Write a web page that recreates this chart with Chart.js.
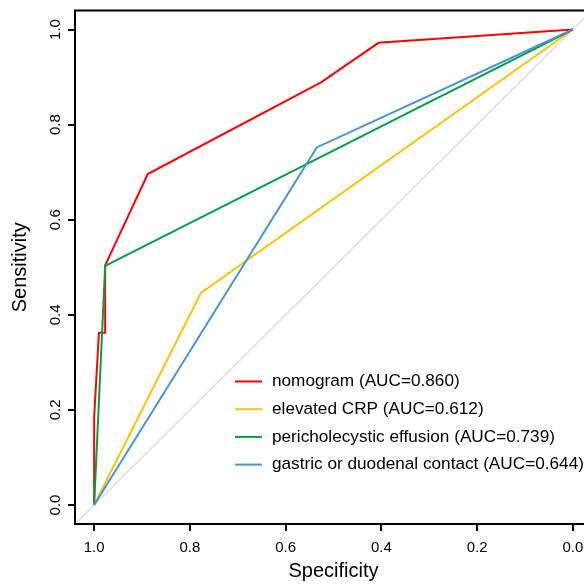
<!DOCTYPE html>
<html>
<head>
<meta charset="utf-8">
<script src="https://cdn.jsdelivr.net/npm/chart.js@4/dist/chart.umd.min.js"></script>
<style>
  html, body { margin: 0; padding: 0; background: #fff; overflow: hidden; width: 584px; height: 584px; }
  canvas { display: block; }
</style>
</head>
<body>
<canvas id="c" width="592" height="584"></canvas>
<script>
// ---- data ----
const tickValues = [0.0, 0.2, 0.4, 0.6, 0.8, 1.0];

const seriesLabels = [
  "nomogram (AUC=0.860)",
  "elevated CRP (AUC=0.612)",
  "pericholecystic effusion (AUC=0.739)",
  "gastric or duodenal contact (AUC=0.644)"
];
const seriesColors = ["#FF0000", "#FFC000", "#00A040", "#4295D8"];

const nomogramSpec = [1.0, 1.0, 0.990, 0.977, 0.977, 0.888, 0.526, 0.406, 0.0];
const nomogramSens = [0.0, 0.185, 0.362, 0.362, 0.504, 0.696, 0.889, 0.972, 1.0];

const crpSpec = [1.0, 0.777, 0.0];
const crpSens = [0.0, 0.446, 1.0];

const effusionSpec = [1.0, 0.977, 0.0];
const effusionSens = [0.0, 0.503, 1.0];

const contactSpec = [1.0, 0.535, 0.0];
const contactSens = [0.0, 0.752, 1.0];

const diagSpec = [1.1, -0.1];
const diagSens = [-0.1, 1.1];

// ---- build ----
const toPts = (xs, ys) => xs.map((x, i) => ({ x: x, y: ys[i] }));
const curves = [
  toPts(nomogramSpec, nomogramSens),
  toPts(crpSpec, crpSens),
  toPts(effusionSpec, effusionSens),
  toPts(contactSpec, contactSens)
];

const datasets = curves.map((pts, i) => ({
  label: seriesLabels[i],
  data: pts,
  borderColor: seriesColors[i],
  backgroundColor: seriesColors[i],
  borderWidth: 2,
  showLine: true,
  pointRadius: 0,
  tension: 0,
  fill: false,
  order: 4 - i
}));
datasets.push({
  label: "",
  data: toPts(diagSpec, diagSens),
  borderColor: "#DDDDDD",
  borderWidth: 1.5,
  showLine: true,
  pointRadius: 0,
  fill: false,
  order: 10
});

const boxPlugin = {
  id: "box",
  afterDraw(chart) {
    const ctx = chart.ctx, a = chart.chartArea;
    ctx.save();
    ctx.strokeStyle = "#000";
    ctx.lineWidth = 2;
    ctx.strokeRect(a.left, a.top, a.right - a.left, a.bottom - a.top);
    ctx.restore();
  }
};

const legendPlugin = {
  id: "innerLegend",
  afterDraw(chart) {
    const ctx = chart.ctx;
    const x0 = 235, x1 = 262, tx = 272, y0 = 381.5, dy = 27.7;
    ctx.save();
    ctx.font = "17.2px 'Liberation Sans', Arial, sans-serif";
    ctx.textBaseline = "middle";
    ctx.textAlign = "left";
    for (let i = 0; i < seriesLabels.length; i++) {
      const y = y0 + i * dy;
      ctx.strokeStyle = seriesColors[i];
      ctx.lineWidth = 2;
      ctx.beginPath();
      ctx.moveTo(x0, y);
      ctx.lineTo(x1, y);
      ctx.stroke();
      ctx.fillStyle = "#000";
      ctx.fillText(seriesLabels[i], tx, y);
    }
    ctx.restore();
  }
};

const tickFont = { family: "'Liberation Sans', Arial, sans-serif", size: 15 };
const titleFont = { family: "'Liberation Sans', Arial, sans-serif", size: 20 };

new Chart(document.getElementById("c"), {
  type: "scatter",
  data: { datasets: datasets },
  options: {
    responsive: false,
    animation: false,
    layout: { padding: { top: 7, right: 0, bottom: 0, left: 0 } },
    plugins: { legend: { display: false }, tooltip: { enabled: false } },
    scales: {
      x: {
        type: "linear",
        reverse: true,
        min: -0.04,
        max: 1.04,
        afterBuildTicks: s => { s.ticks = tickValues.map(v => ({ value: v })); },
        afterFit: s => { s.height = 60; },
        border: { display: false },
        grid: { drawOnChartArea: false, drawTicks: true, tickLength: 7, color: "#000", lineWidth: 2 },
        ticks: { color: "#000", font: tickFont, padding: 8, autoSkip: false, maxRotation: 0,
                 callback: v => Number(v).toFixed(1) },
        title: { display: true, text: "Specificity", color: "#000", font: titleFont, padding: { top: 0, bottom: 1 } }
      },
      y: {
        type: "linear",
        min: -0.04,
        max: 1.04,
        afterBuildTicks: s => { s.ticks = tickValues.map(v => ({ value: v })); },
        afterFit: s => { s.width = 75; },
        border: { display: false },
        grid: { drawOnChartArea: false, drawTicks: true, tickLength: 7, color: "#000", lineWidth: 2 },
        ticks: { color: "#000", font: tickFont, padding: 1.5, autoSkip: false, minRotation: 90, maxRotation: 90,
                 crossAlign: "center", callback: v => Number(v).toFixed(1) },
        title: { display: true, text: "Sensitivity", color: "#000", font: titleFont, padding: { top: 8, bottom: 0 } }
      }
    }
  },
  plugins: [boxPlugin, legendPlugin]
});
</script>
</body>
</html>
